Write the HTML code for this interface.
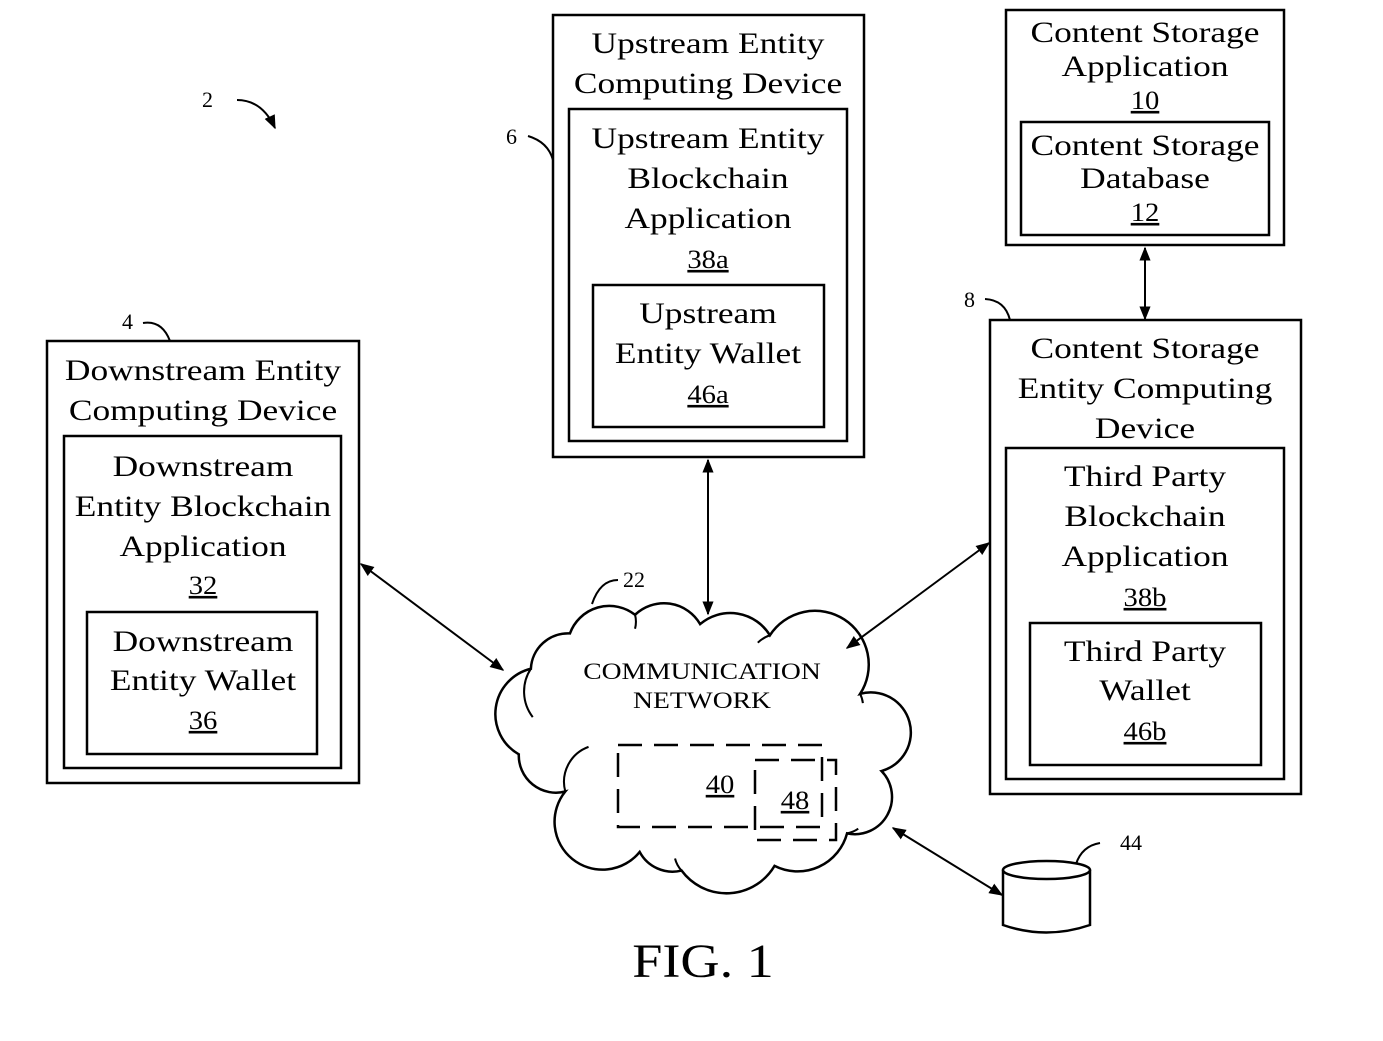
<!DOCTYPE html>
<html><head><meta charset="utf-8"><style>
html,body{margin:0;padding:0;background:#fff;}
svg{display:block;}
text{font-family:"Liberation Serif",serif;fill:#000;}
.t{font-size:30px;text-anchor:middle;}
.n{font-size:22px;}
.u{text-decoration:underline;}
</style></head><body>
<svg width="1383" height="1041" viewBox="0 0 1383 1041" xmlns="http://www.w3.org/2000/svg">
<defs>
<marker id="b" viewBox="0 0 10 10" refX="9" refY="5" markerWidth="14" markerHeight="14" orient="auto-start-reverse" markerUnits="userSpaceOnUse">
<path d="M0,1 L10,5 L0,9 z" fill="#000"/></marker>
</defs>
<g fill="none" stroke="#000" stroke-width="2.5">
<rect x="47" y="341" width="312" height="442"/>
<rect x="64" y="436" width="277" height="332"/>
<rect x="87" y="612" width="230" height="142"/>
<rect x="553" y="15" width="311" height="442"/>
<rect x="569" y="109" width="278" height="332"/>
<rect x="593" y="285" width="231" height="142"/>
<rect x="1006" y="10" width="278" height="235"/>
<rect x="1021" y="122" width="248" height="113"/>
<rect x="990" y="320" width="311" height="474"/>
<rect x="1006" y="448" width="278" height="331"/>
<rect x="1030" y="623" width="231" height="142"/>
</g>
<!-- cloud -->
<g transform="translate(702,745) scale(0.93,0.93) translate(-702,-750)">
<path d="M505,760 A50,50 0 0 1 518,668 A40,40 0 0 1 560,630 A45,45 0 0 1 630,610 A45,45 0 0 1 700,620 A50,50 0 0 1 775,632 A55,55 0 0 1 872,695 A40,40 0 0 1 895,778 A40,40 0 0 1 858,845 A55,55 0 0 1 780,880 A60,60 0 0 1 680,885 A40,40 0 0 1 635,865 A50,50 0 0 1 555,800 A40,40 0 0 1 505,760 Z" fill="#fff" stroke="#000" stroke-width="2.7"/>
<path d="M555,800 A40,40 0 0 1 580,752 M518,668 A45,45 0 0 0 520,720 M630,610 A30,30 0 0 1 630,625 M775,632 A35,35 0 0 0 762,640 M872,695 A30,30 0 0 1 875,705 M858,845 A30,30 0 0 0 870,840 M680,885 A30,30 0 0 1 673,872" fill="none" stroke="#000" stroke-width="2.2"/>
</g>
<g stroke="#000" stroke-width="2" fill="none">
<line x1="361" y1="564" x2="503" y2="670" marker-start="url(#b)" marker-end="url(#b)"/>
<line x1="708" y1="460" x2="708" y2="614" marker-start="url(#b)" marker-end="url(#b)"/>
<line x1="989" y1="543" x2="847" y2="648" marker-start="url(#b)" marker-end="url(#b)"/>
<line x1="1145" y1="248" x2="1145" y2="319" marker-start="url(#b)" marker-end="url(#b)"/>
<line x1="893" y1="828" x2="1002" y2="895" marker-start="url(#b)" marker-end="url(#b)"/>
<path d="M237,100 Q262,100 275,128" marker-end="url(#b)"/>
<path d="M528,136 Q548,142 553,160"/>
<path d="M143,323 Q162,320 170,341"/>
<path d="M985,299 Q1005,300 1010,320"/>
<path d="M618,580 Q600,580 592,604"/>
<path d="M1100,843 Q1082,846 1076,864"/>
</g>
<g fill="none" stroke="#000" stroke-width="2.5" stroke-dasharray="24,12">
<rect x="618" y="745" width="204" height="82"/>
<rect x="755" y="760" width="81" height="80"/>
</g>
<g fill="#fff" stroke="#000" stroke-width="2.5">
<path d="M1003,870 L1003,925 Q1046,940 1090,925 L1090,870"/>
<ellipse cx="1046.5" cy="870" rx="43.5" ry="9"/>
</g>
<g>
<text class="t" transform="matrix(1.18,0,0,1,203,0)" y="380">Downstream Entity</text>
<text class="t" transform="matrix(1.18,0,0,1,203,0)" y="420">Computing Device</text>
<text class="t" transform="matrix(1.18,0,0,1,203,0)" y="476">Downstream</text>
<text class="t" transform="matrix(1.18,0,0,1,203,0)" y="516">Entity Blockchain</text>
<text class="t" transform="matrix(1.18,0,0,1,203,0)" y="556">Application</text>
<text class="t u" transform="matrix(1.1,0,0,1,203,0)" y="594" style="font-size:26px">32</text>
<text class="t" transform="matrix(1.18,0,0,1,203,0)" y="651">Downstream</text>
<text class="t" transform="matrix(1.18,0,0,1,203,0)" y="690">Entity Wallet</text>
<text class="t u" transform="matrix(1.1,0,0,1,203,0)" y="729" style="font-size:26px">36</text>

<text class="t" transform="matrix(1.18,0,0,1,708,0)" y="53">Upstream Entity</text>
<text class="t" transform="matrix(1.18,0,0,1,708,0)" y="93">Computing Device</text>
<text class="t" transform="matrix(1.18,0,0,1,708,0)" y="148">Upstream Entity</text>
<text class="t" transform="matrix(1.18,0,0,1,708,0)" y="188">Blockchain</text>
<text class="t" transform="matrix(1.18,0,0,1,708,0)" y="228">Application</text>
<text class="t u" transform="matrix(1.1,0,0,1,708,0)" y="268" style="font-size:26px">38a</text>
<text class="t" transform="matrix(1.18,0,0,1,708,0)" y="323">Upstream</text>
<text class="t" transform="matrix(1.18,0,0,1,708,0)" y="363">Entity Wallet</text>
<text class="t u" transform="matrix(1.1,0,0,1,708,0)" y="403" style="font-size:26px">46a</text>

<text class="t" transform="matrix(1.18,0,0,1,1145,0)" y="42">Content Storage</text>
<text class="t" transform="matrix(1.18,0,0,1,1145,0)" y="76">Application</text>
<text class="t u" transform="matrix(1.1,0,0,1,1145,0)" y="109" style="font-size:26px">10</text>
<text class="t" transform="matrix(1.18,0,0,1,1145,0)" y="155">Content Storage</text>
<text class="t" transform="matrix(1.18,0,0,1,1145,0)" y="188">Database</text>
<text class="t u" transform="matrix(1.1,0,0,1,1145,0)" y="221" style="font-size:26px">12</text>

<text class="t" transform="matrix(1.18,0,0,1,1145,0)" y="358">Content Storage</text>
<text class="t" transform="matrix(1.18,0,0,1,1145,0)" y="398">Entity Computing</text>
<text class="t" transform="matrix(1.18,0,0,1,1145,0)" y="438">Device</text>
<text class="t" transform="matrix(1.18,0,0,1,1145,0)" y="486">Third Party</text>
<text class="t" transform="matrix(1.18,0,0,1,1145,0)" y="526">Blockchain</text>
<text class="t" transform="matrix(1.18,0,0,1,1145,0)" y="566">Application</text>
<text class="t u" transform="matrix(1.1,0,0,1,1145,0)" y="606" style="font-size:26px">38b</text>
<text class="t" transform="matrix(1.18,0,0,1,1145,0)" y="661">Third Party</text>
<text class="t" transform="matrix(1.18,0,0,1,1145,0)" y="700">Wallet</text>
<text class="t u" transform="matrix(1.1,0,0,1,1145,0)" y="740" style="font-size:26px">46b</text>

<text transform="matrix(1.2,0,0,1,702,0)" y="679" style="font-size:23px;text-anchor:middle">COMMUNICATION</text>
<text transform="matrix(1.2,0,0,1,702,0)" y="708" style="font-size:23px;text-anchor:middle">NETWORK</text>
<text class="u" transform="matrix(1.1,0,0,1,720,0)" y="793" style="font-size:26px;text-anchor:middle">40</text>
<text class="u" transform="matrix(1.1,0,0,1,795,0)" y="809" style="font-size:26px;text-anchor:middle">48</text>

<text class="n" x="202" y="107">2</text>
<text class="n" x="506" y="144">6</text>
<text class="n" x="122" y="329">4</text>
<text class="n" x="964" y="307">8</text>
<text class="n" x="623" y="587">22</text>
<text class="n" x="1120" y="850">44</text>
<text transform="matrix(1.13,0,0,1,703,0)" y="977" style="font-size:48px;text-anchor:middle">FIG. 1</text>
</g>
</svg>
</body></html>
